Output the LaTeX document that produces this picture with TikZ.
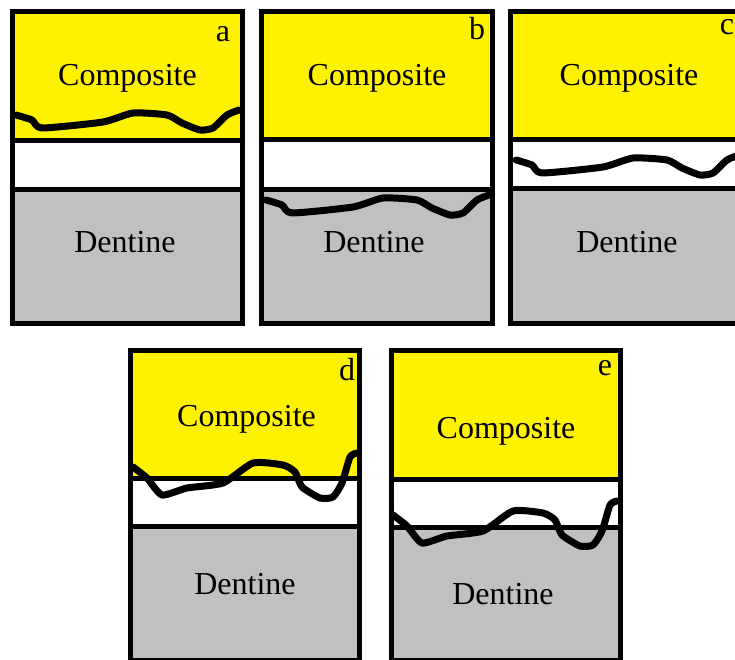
\documentclass[tikz,border=0pt]{standalone}
\usepackage{fontspec}
\setmainfont{Liberation Serif}
\definecolor{composite}{RGB}{255,242,0}
\definecolor{dentine}{RGB}{192,192,192}
\tikzset{
  layer/.style={draw=black, line width=5pt},
  crack/.style={draw=black, line width=7pt, line join=round, line cap=round},
  lbl/.style={font=\fontsize{32}{38}\selectfont, inner sep=0pt, anchor=base},
}
% #1 left, #2 right, #3 top, #4 composite bottom, #5 dentine top, #6 bottom
\newcommand{\specimen}[6]{%
  \fill[composite] (#1,#3) rectangle (#2,#4);
  \fill[white] (#1,#4) rectangle (#2,#5);
  \fill[dentine] (#1,#5) rectangle (#2,#6);
  \draw[layer] (#1,#4) -- (#2,#4);
  \draw[layer] (#1,#5) -- (#2,#5);
  \draw[layer] (#1,#3) rectangle (#2,#6);
}
\begin{document}
\begin{tikzpicture}[x=1pt, y=-1pt]
\useasboundingbox (0,0) rectangle (735,660);
\clip (0,0) rectangle (735,660);

% upper row
\specimen{12.5}{242.5}{12}{140.5}{190}{323.5}
\specimen{261}{492.5}{12}{140}{189.5}{323}
\specimen{510}{748}{12}{140}{189}{323}

% lower row
\specimen{130}{359.5}{350}{478.5}{526.5}{660.5}
\specimen{391}{620.5}{350.5}{479.5}{527}{660.5}

% fracture lines, upper row
\foreach \dx/\dy in {0/0, 250/85, 500/45}{
  \begin{scope}[shift={(\dx,\dy)}]
    \draw[crack] plot[smooth, tension=0.35] coordinates {
      (16,115) (32,120) (42,128) (103,122) (133,113) (167,115)
      (182,123) (200,130) (213,128) (227,115) (239,110)};
  \end{scope}
}

% fracture lines, lower row
\foreach \dx/\dy in {0/0, 260/48}{
  \begin{scope}[shift={(\dx,\dy)}]
    \draw[crack] plot[smooth, tension=0.35] coordinates {
      (133,467) (147,478) (162,495) (187,488) (223,483) (253,463)
      (283,465) (295,472) (302,487) (320,498) (333,497) (342,483)
      (350,457) (357,453)};
  \end{scope}
}

% labels
\node[lbl] (compA) at (127.5,86) {Composite};
\node[lbl] (dentA) at (125,252) {Dentine};
\node[lbl] (tagA) at (223,42) {a};

\node[lbl] (compB) at (377,86) {Composite};
\node[lbl] (dentB) at (374,252) {Dentine};
\node[lbl] (tagB) at (477,40) {b};

\node[lbl] (compC) at (629,86) {Composite};
\node[lbl] (dentC) at (627,252) {Dentine};
\node[lbl] (tagC) at (727,35) {c};

\node[lbl] (compD) at (246.5,426) {Composite};
\node[lbl] (dentD) at (245,594) {Dentine};
\node[lbl] (tagD) at (347,380) {d};

\node[lbl] (compE) at (506,438) {Composite};
\node[lbl] (dentE) at (503,604) {Dentine};
\node[lbl] (tagE) at (605,375) {e};
\end{tikzpicture}
\end{document}
